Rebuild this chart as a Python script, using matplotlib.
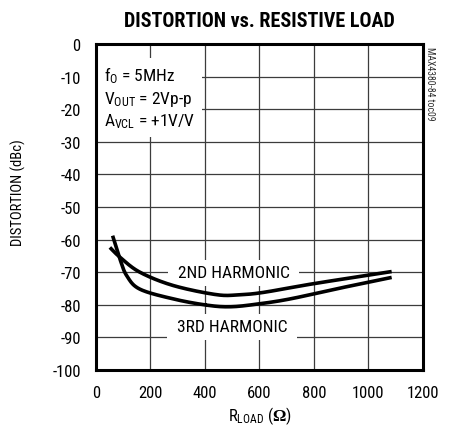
import matplotlib
matplotlib.use('Agg')
import matplotlib.pyplot as plt
import numpy as np

# curves
r_2nd = [51, 88, 161, 284, 443, 528, 614, 800, 1085]
d_2nd = [-62.4, -65.4, -70.0, -74.1, -76.9, -76.9, -76.2, -73.5, -69.8]
r_3rd = [61, 88, 113, 161, 284, 406, 492, 590, 712, 900, 1085]
d_3rd = [-58.8, -66.0, -71.1, -75.2, -78.2, -80.1, -80.6, -79.8, -78.2, -74.8, -71.6]

x_ticks = [0, 200, 400, 600, 800, 1000, 1200]
y_ticks = [0, -10, -20, -30, -40, -50, -60, -70, -80, -90, -100]

plt.rcParams['font.family'] = ['Roboto Condensed', 'DejaVu Sans']
plt.rcParams['mathtext.fontset'] = 'custom'
plt.rcParams['mathtext.rm'] = 'Roboto Condensed'
plt.rcParams['mathtext.it'] = 'Roboto Condensed:italic'
plt.rcParams['mathtext.bf'] = 'Liberation Serif:bold'


def smooth(xs, ys):
    # catmull-rom through the read points
    xs = np.asarray(xs, float)
    ys = np.asarray(ys, float)
    px, py = [], []
    n = len(xs)
    for i in range(n - 1):
        idx = [max(i - 1, 0), i, i + 1, min(i + 2, n - 1)]
        t = np.linspace(0, 1, 30)
        for arr, out in ((xs, px), (ys, py)):
            a = arr[idx]
            v = 0.5 * ((2 * a[1]) + (-a[0] + a[2]) * t +
                       (2 * a[0] - 5 * a[1] + 4 * a[2] - a[3]) * t ** 2 +
                       (-a[0] + 3 * a[1] - 3 * a[2] + a[3]) * t ** 3)
            out.extend(v)
    return px, py


fig = plt.figure(figsize=(4.5, 4.31), dpi=100)
ax = fig.add_axes([0.2133, 0.1392, 0.7267, 0.7564])

ax.set_xlim(0, 1200)
ax.set_ylim(-100, 0)
ax.set_xticks(x_ticks)
ax.set_yticks(y_ticks)
ax.set_xticklabels([str(v) for v in x_ticks], fontsize=12)
ax.set_yticklabels([str(v) for v in y_ticks], fontsize=12)
ax.tick_params(length=0, pad=11)
ax.grid(True, color='#3c3c3c', linewidth=0.9)
ax.set_axisbelow(True)
for s in ax.spines.values():
    s.set_linewidth(2.2)
    s.set_color('black')

x2, y2 = smooth(r_2nd, d_2nd)
x3, y3 = smooth(r_3rd, d_3rd)
ax.plot(x2, y2, color='black', linewidth=2.6, zorder=3, solid_capstyle='butt')
ax.plot(x3, y3, color='black', linewidth=2.6, zorder=3, solid_capstyle='butt')

ax.text(505, -70.2, ' 2ND HARMONIC ', ha='center', va='center', fontsize=12.5,
        bbox=dict(facecolor='white', edgecolor='none', pad=4), zorder=2)
ax.text(500, -86.7, ' 3RD HARMONIC ', ha='center', va='center', fontsize=12.5,
        bbox=dict(facecolor='white', edgecolor='none', pad=4), zorder=2)

ax.text(195, -16.4, '$\\mathregular{f_O}$ = 5MHz\n'
        '$\\mathregular{V_{OUT}}$ = 2Vp-p\n'
        '$\\mathregular{A_{VCL}}$ = +1V/V',
        ha='center', va='center', multialignment='left', fontsize=12.5,
        linespacing=1.25,
        bbox=dict(facecolor='white', edgecolor='none', pad=5), zorder=2)

ax.set_title('DISTORTION vs. RESISTIVE LOAD', fontsize=14.5, fontweight='bold', pad=13)
ax.set_ylabel('DISTORTION (dBc)', fontsize=10.5)
ax.yaxis.set_label_coords(-0.215, 0.548)
ax.set_xlabel('$\\mathregular{R_{LOAD}}$ ($\\mathbf{Ω}$)', fontsize=12)
ax.xaxis.set_label_coords(0.5, -0.105)

fig.text(0.956, 0.891, 'MAX4380-84 toc09', rotation=270, ha='center', va='top',
         fontsize=7, color='#333333')

fig.savefig('out.png', dpi=100)
